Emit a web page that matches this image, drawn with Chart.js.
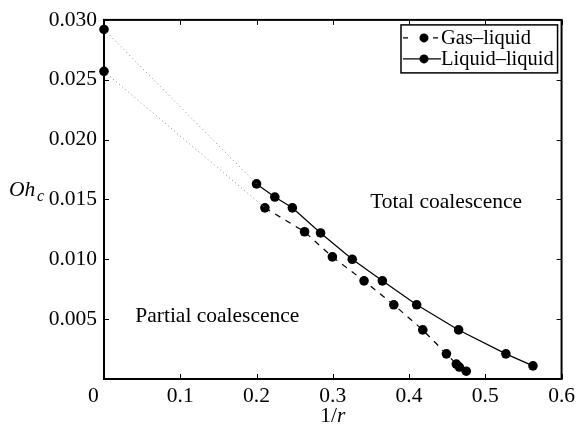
<!DOCTYPE html>
<html>
<head>
<meta charset="utf-8">
<script src="https://cdn.jsdelivr.net/npm/chart.js@4.4.1/dist/chart.umd.min.js"></script>
<style>
  html, body { margin: 0; padding: 0; background: #fff; }
  #wrap { width: 579px; height: 431px; }
</style>
</head>
<body>
<div id="wrap"><canvas id="chart"></canvas></div>
<script>
// ===== Data =====
const gasLabel = "Gas\u2013liquid";
const gasX = [0.211, 0.263, 0.2995, 0.341, 0.380, 0.418, 0.449, 0.462, 0.466, 0.475];
const gasY = [0.0143, 0.0123, 0.0102, 0.0082, 0.0062, 0.0041, 0.0021, 0.00125, 0.0010, 0.00065];

const liqLabel = "Liquid\u2013liquid";
const liqX = [0.200, 0.224, 0.247, 0.284, 0.3255, 0.365, 0.410, 0.465, 0.527, 0.5625];
const liqY = [0.0163, 0.0152, 0.0143, 0.0122, 0.0100, 0.0082, 0.0062, 0.0041, 0.0021, 0.0011];

// extrapolated values at 1/r = 0 (gas, liquid)
const zeroX = [0, 0];
const zeroY = [0.0257, 0.0292];

const xTicks = [0, 0.1, 0.2, 0.3, 0.4, 0.5, 0.6];
const yTicks = [0.005, 0.010, 0.015, 0.020, 0.025, 0.030];

const FONT = "'Liberation Serif', 'Times New Roman', serif";
const FS = 21.5;
const pts = (xs, ys) => xs.map((x, i) => ({ x: x, y: ys[i] }));

// ===== Box, inward ticks, labels, legend =====
const decor = {
  id: "decor",
  afterDraw(chart) {
    const ctx = chart.ctx;
    const a = chart.chartArea;
    const sx = chart.scales.x, sy = chart.scales.y;
    ctx.save();
    ctx.strokeStyle = "#000";
    ctx.lineWidth = 1;
    ctx.setLineDash([]);
    const tl = 5;
    ctx.beginPath();
    xTicks.forEach(v => {
      const px = Math.round(sx.getPixelForValue(v)) + 0.5;
      ctx.moveTo(px, a.bottom); ctx.lineTo(px, a.bottom - tl);
      ctx.moveTo(px, a.top); ctx.lineTo(px, a.top + tl);
    });
    yTicks.forEach(v => {
      const py = Math.round(sy.getPixelForValue(v)) + 0.5;
      ctx.moveTo(a.left, py); ctx.lineTo(a.left + tl, py);
      ctx.moveTo(a.right, py); ctx.lineTo(a.right - tl, py);
    });
    ctx.stroke();
    ctx.lineWidth = 2;
    ctx.strokeRect(a.left, a.top, a.right - a.left, a.bottom - a.top);

    // region labels
    ctx.fillStyle = "#000";
    ctx.font = FS + "px " + FONT;
    ctx.textBaseline = "alphabetic";
    ctx.textAlign = "left";
    ctx.fillText("Total coalescence", sx.getPixelForValue(0.349), sy.getPixelForValue(0.0143));
    ctx.fillText("Partial coalescence", sx.getPixelForValue(0.041), sy.getPixelForValue(0.0048));

    // axis titles
    ctx.font = "italic " + FS + "px " + FONT;
    ctx.fillText("Oh", 9, 196);
    ctx.font = "italic 16px " + FONT;
    ctx.fillText("c", 37, 201);
    const cx = (a.left + a.right) / 2;
    ctx.font = FS + "px " + FONT;
    const w1 = ctx.measureText("1/").width;
    ctx.font = "italic " + FS + "px " + FONT;
    const w2 = ctx.measureText("r").width;
    ctx.font = FS + "px " + FONT;
    ctx.fillText("1/", cx - (w1 + w2) / 2, 422);
    ctx.font = "italic " + FS + "px " + FONT;
    ctx.fillText("r", cx - (w1 + w2) / 2 + w1, 422);

    // legend
    const lx = 401, ly = a.top + 5, lw = a.right - 4 - lx, lh = 48;
    ctx.fillStyle = "#fff";
    ctx.fillRect(lx, ly, lw, lh);
    const rows = [
      { label: gasLabel, solid: false, y: ly + 13 },
      { label: liqLabel, solid: true, y: ly + 34 }
    ];
    ctx.save();
    ctx.beginPath();
    ctx.rect(lx, ly, lw, lh);
    ctx.clip();
    rows.forEach(r => {
      ctx.lineWidth = 1.2;
      ctx.strokeStyle = "#000";
      ctx.beginPath();
      if (r.solid) {
        ctx.moveTo(lx + 2, r.y); ctx.lineTo(lx + 40, r.y);
      } else {
        ctx.moveTo(lx + 2, r.y); ctx.lineTo(lx + 7, r.y);
        ctx.moveTo(lx + 32, r.y); ctx.lineTo(lx + 37, r.y);
      }
      ctx.stroke();
      ctx.fillStyle = "#000";
      ctx.beginPath();
      ctx.arc(lx + 23, r.y, 4.5, 0, Math.PI * 2);
      ctx.fill();
      ctx.font = "20.5px " + FONT;
      ctx.textBaseline = "middle";
      ctx.fillText(r.label, lx + 40, r.y + 1);
    });
    ctx.restore();
    ctx.lineWidth = 1.5;
    ctx.strokeStyle = "#000";
    ctx.strokeRect(lx, ly, lw, lh);
    ctx.restore();
  }
};

new Chart(document.getElementById("chart"), {
  type: "scatter",
  data: {
    datasets: [
      { data: pts([zeroX[1], liqX[0]], [zeroY[1], liqY[0]]), showLine: true, borderColor: "#888",
        borderWidth: 1, borderDash: [1, 3], pointRadius: 0 },
      { data: pts([zeroX[0], gasX[0]], [zeroY[0], gasY[0]]), showLine: true, borderColor: "#888",
        borderWidth: 1, borderDash: [1, 3], pointRadius: 0 },
      { label: gasLabel, data: pts(gasX, gasY), showLine: true, borderColor: "#000", borderWidth: 1.2,
        borderDash: [6, 6], pointRadius: 4.8, pointBackgroundColor: "#000", pointBorderWidth: 0 },
      { label: liqLabel, data: pts(liqX, liqY), showLine: true, borderColor: "#000", borderWidth: 1.2,
        pointRadius: 4.8, pointBackgroundColor: "#000", pointBorderWidth: 0 },
      { data: pts(zeroX, zeroY), showLine: false, pointRadius: 4.8,
        pointBackgroundColor: "#000", pointBorderWidth: 0 }
    ]
  },
  options: {
    responsive: true,
    maintainAspectRatio: false,
    animation: false,
    clip: false,
    layout: { padding: { top: 19, right: 14, left: 0, bottom: 0 } },
    plugins: { legend: { display: false }, tooltip: { enabled: false } },
    scales: {
      x: {
        type: "linear", min: 0, max: 0.6,
        afterBuildTicks: s => { s.ticks = xTicks.map(v => ({ value: v })); },
        afterFit: s => { s.height = 52; },
        grid: { display: false, drawTicks: false },
        border: { display: false },
        // "0" sits a little left of its tick in the original
        ticks: { color: "#000", padding: 4, maxRotation: 0, font: { family: FONT, size: FS },
                 callback: v => v === 0 ? "0\u2007\u2007" : v.toFixed(1) }
      },
      y: {
        type: "linear", min: 0, max: 0.03,
        afterBuildTicks: s => { s.ticks = yTicks.map(v => ({ value: v })); },
        afterFit: s => { s.width = 104; },
        grid: { display: false, drawTicks: false },
        border: { display: false },
        ticks: { color: "#000", padding: 7, font: { family: FONT, size: FS },
                 callback: v => v.toFixed(3) }
      }
    }
  },
  plugins: [decor]
});
</script>
</body>
</html>
